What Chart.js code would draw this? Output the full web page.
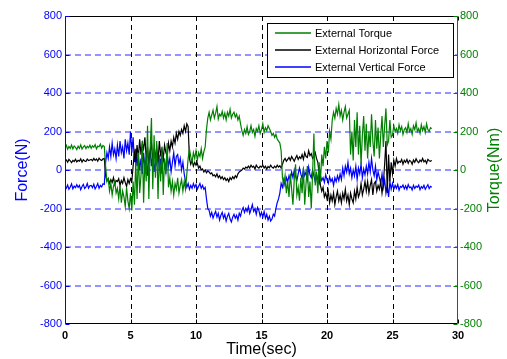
<!DOCTYPE html>
<html>
<head>
<meta charset="utf-8">
<script src="https://cdn.jsdelivr.net/npm/chart.js@4.4.1/dist/chart.umd.min.js"></script>
<style>
  html, body { margin: 0; padding: 0; background: #fff; }
</style>
</head>
<body>
<canvas id="chart" width="507" height="359"></canvas>
<script>
const seriesNames = ['External Torque', 'External Horizontal Force', 'External Vertical Force'];
const seriesColors = ['#008000', '#000000', '#0000ff'];
const xTicks = [0, 5, 10, 15, 20, 25, 30];
const yTicks = [-800, -600, -400, -200, 0, 200, 400, 600, 800];
const sampleStep = 0.1; // seconds between samples, data starts at t = 0

// External torque (Nm), right axis, one row per second
const torque = [
  115,128,108,122,112,130,110,125,118,106,
  124,112,131,109,120,127,111,123,116,129,
  113,126,118,132,110,124,121,135,114,128,
  122,20,-60,-45,-110,-70,-130,-85,-60,-120,
  -95,-150,-80,-170,-110,-140,-190,-90,-160,-200,
  -120,-210,-60,-180,40,-150,90,-120,-30,150,
  -170,60,-60,230,-150,110,270,-100,180,-40,
  150,-150,80,-60,120,-130,60,-20,140,-90,
  -40,-110,-60,-130,-70,-100,-40,-120,-80,-50,
  -110,-60,-100,-20,60,110,70,40,90,60,
  100,50,90,70,110,60,95,120,210,270,
  300,260,285,310,270,295,330,265,290,280,
  305,270,295,260,300,280,315,270,290,300,
  275,290,260,280,240,205,180,210,190,225,
  185,200,230,195,210,175,215,200,230,190,
  210,240,195,220,205,230,215,200,180,190,
  170,185,160,150,140,100,-40,-80,-30,-120,
  -60,-140,-20,-100,-180,-50,30,-130,-90,-160,
  -40,-120,10,-180,-70,20,-140,-60,-200,-20,
  190,-80,-10,-120,40,-60,80,20,120,60,
  150,90,200,160,260,300,270,320,290,340,
  280,310,260,300,330,270,290,310,80,200,
  50,260,120,300,80,230,30,180,280,100,
  240,60,200,120,290,150,70,260,110,220,
  60,180,280,120,230,320,130,150,260,170,
  180,230,200,215,190,235,205,225,185,210,
  220,195,240,200,215,185,230,210,245,200,
  215,190,235,205,225,195,240,210,200,220,
  215
];

// External horizontal force (N), left axis
const horizForce = [
  45,52,40,55,48,38,50,44,56,42,
  50,46,58,41,53,47,44,57,49,52,
  55,48,60,50,57,46,62,53,49,58,
  60,-30,-55,-45,-70,-50,-65,-40,-75,-55,
  -60,-45,-80,-55,-70,-40,-65,-85,-50,-70,
  -45,-60,20,90,40,130,60,160,80,140,
  110,170,60,120,30,90,140,50,100,70,
  120,40,150,80,110,60,130,90,70,140,
  100,150,120,170,140,190,160,200,180,210,
  190,230,200,240,225,60,30,50,20,40,
  25,35,10,20,0,5,-10,0,-15,-5,
  -10,-20,-15,-30,-25,-35,-20,-40,-30,-45,
  -35,-50,-40,-55,-45,-60,-40,-50,-35,-45,
  -30,-40,-20,-10,-5,0,10,5,15,10,
  20,10,25,15,20,5,25,15,10,20,
  15,25,10,20,5,18,12,25,15,10,
  20,12,25,15,22,10,30,50,60,45,
  55,65,50,70,58,45,62,75,55,68,
  60,80,55,90,70,65,100,75,85,60,
  70,90,60,40,-20,-80,-110,-90,-140,-120,
  -150,-110,-170,-130,-160,-120,-180,-140,-110,-160,
  -130,-170,-120,-150,-100,-160,-130,-180,-120,-150,
  -170,-110,-150,-90,-140,-120,-70,-130,-100,-60,
  -110,-60,-120,-80,-50,-130,-70,-60,-110,-80,
  -100,-60,-120,-70,30,150,-120,80,-60,40,
  -20,50,20,60,35,45,40,55,30,50,
  40,55,35,50,45,30,52,40,58,45,
  38,52,44,60,42,50,35,55,48,45,
  50
];

// External vertical force (N), left axis
const vertForce = [
  -85,-95,-78,-100,-88,-72,-98,-84,-92,-76,
  -90,-80,-102,-86,-75,-96,-88,-70,-94,-82,
  -80,-92,-74,-98,-86,-70,-95,-80,-88,-72,
  -75,40,90,60,120,70,140,80,110,60,
  130,70,150,90,120,60,160,100,140,80,
  200,90,170,40,110,20,80,0,60,-20,
  90,10,70,-30,60,100,20,80,-10,50,
  30,90,0,60,-20,70,40,-10,80,20,
  60,-10,40,90,20,70,80,30,60,0,
  40,-20,-60,-90,-70,-100,-80,-95,-70,-90,
  -75,-100,-85,-70,-95,-80,-100,-90,-150,-200,
  -210,-240,-220,-250,-230,-215,-245,-225,-260,-235,
  -220,-250,-230,-265,-240,-225,-255,-270,-245,-230,
  -250,-235,-260,-225,-240,-210,-195,-220,-200,-215,
  -190,-225,-205,-180,-215,-200,-230,-195,-210,-240,
  -220,-245,-215,-250,-230,-260,-240,-265,-255,-230,
  -240,-200,-170,-150,-120,-70,-90,-50,-80,-40,
  -60,-30,-50,-10,-40,0,-30,-55,-20,10,
  -20,-45,5,-30,-10,-50,15,-25,-40,0,
  -30,-60,-20,-50,-70,-30,-55,-40,-65,-25,
  -50,-70,-35,-60,-45,-80,-40,-60,-30,-55,
  -20,-50,10,-30,20,-10,40,-20,10,-40,
  0,-30,20,-50,10,-20,30,-40,5,-25,
  20,-20,40,-10,60,0,-30,20,-50,-10,
  -40,-70,-20,-90,-50,-120,-80,-140,-60,-100,
  -70,-100,-80,-95,-75,-105,-85,-90,-78,-98,
  -82,-100,-76,-92,-88,-104,-80,-96,-84,-90,
  -78,-102,-86,-94,-80,-100,-88,-76,-96,-85,
  -90
];

const FONT = "'Liberation Sans', Arial, sans-serif";

const toPoints = vals => vals.map((v, i) => ({ x: +(i * sampleStep).toFixed(1), y: v }));

// dashed grid drawn by hand so each set keeps its own colour
const matlabGrid = {
  id: 'matlabGrid',
  beforeDatasetsDraw(chart) {
    const { ctx, chartArea: a, scales } = chart;
    ctx.save();
    ctx.lineWidth = 1;
    ctx.setLineDash([6, 4]);
    ctx.strokeStyle = '#2a2aff';
    ctx.beginPath();
    for (const v of yTicks) {
      if (Math.abs(v) === 800) continue;
      const py = Math.round(scales.yL.getPixelForValue(v));
      ctx.moveTo(a.left, py); ctx.lineTo(a.right, py);
    }
    ctx.stroke();
    ctx.setLineDash([5, 4]);
    ctx.strokeStyle = '#000';
    ctx.beginPath();
    for (const t of xTicks) {
      if (t === 0 || t === 30) continue;
      const px = Math.round(scales.x.getPixelForValue(t)) + 0.5;
      ctx.moveTo(px, a.top); ctx.lineTo(px, a.bottom);
    }
    ctx.stroke();
    ctx.restore();
  }
};

// MATLAB style frame: coloured y axes, inward ticks, right title bottom-to-top, boxed legend
const matlabFrame = {
  id: 'matlabFrame',
  afterDraw(chart) {
    const { ctx, chartArea: a, scales } = chart;
    const sx = scales.x, sy = scales.yL;
    const L = Math.round(a.left) + 0.5, R = Math.round(a.right) - 0.5;
    const T = Math.round(a.top) + 0.5, B = Math.round(a.bottom) - 0.5;
    ctx.save();
    ctx.lineWidth = 1;
    ctx.setLineDash([]);

    ctx.strokeStyle = '#000';
    ctx.beginPath();
    for (const t of xTicks) {
      const px = Math.round(sx.getPixelForValue(t)) + 0.5;
      ctx.moveTo(px, B); ctx.lineTo(px, B - 4);
      ctx.moveTo(px, T); ctx.lineTo(px, T + 4);
    }
    ctx.moveTo(L, T); ctx.lineTo(R, T);
    ctx.moveTo(L, B); ctx.lineTo(R, B);
    ctx.stroke();

    ctx.strokeStyle = '#0000ff';
    ctx.beginPath();
    ctx.moveTo(L, T); ctx.lineTo(L, B);
    for (const v of yTicks) {
      const py = Math.round(sy.getPixelForValue(v)) + 0.5;
      ctx.moveTo(L, py); ctx.lineTo(L + 4, py);
    }
    ctx.stroke();

    ctx.strokeStyle = '#008000';
    ctx.beginPath();
    ctx.moveTo(R, T); ctx.lineTo(R, B);
    for (const v of yTicks) {
      const py = Math.round(scales.yR.getPixelForValue(v)) + 0.5;
      ctx.moveTo(R, py); ctx.lineTo(R - 4, py);
    }
    ctx.stroke();

    // right axis title, reading bottom to top like the left one
    ctx.fillStyle = '#008000';
    ctx.font = '16px ' + FONT;
    ctx.textAlign = 'center';
    ctx.textBaseline = 'middle';
    ctx.translate(495, (a.top + a.bottom) / 2);
    ctx.rotate(-Math.PI / 2);
    ctx.fillText('Torque(Nm)', 0, 0);
    ctx.setTransform(1, 0, 0, 1, 0, 0);

    // legend box
    const bx = 267.5, by = 23.5, bw = 186, bh = 54;
    ctx.fillStyle = '#fff';
    ctx.fillRect(bx, by, bw, bh);
    ctx.strokeStyle = '#000';
    ctx.strokeRect(bx, by, bw, bh);
    ctx.font = '11px ' + FONT;
    ctx.textAlign = 'left';
    seriesNames.forEach((name, i) => {
      const ly = 33 + i * 17;
      ctx.strokeStyle = seriesColors[i];
      ctx.lineWidth = 1.5;
      ctx.beginPath();
      ctx.moveTo(275, ly); ctx.lineTo(311, ly);
      ctx.stroke();
      ctx.fillStyle = '#000';
      ctx.fillText(name, 315, ly + 0.5);
    });
    ctx.restore();
  }
};

new Chart(document.getElementById('chart'), {
  type: 'line',
  data: {
    datasets: [
      { label: seriesNames[0], data: toPoints(torque), yAxisID: 'yR', borderColor: seriesColors[0] },
      { label: seriesNames[1], data: toPoints(horizForce), yAxisID: 'yL', borderColor: seriesColors[1] },
      { label: seriesNames[2], data: toPoints(vertForce), yAxisID: 'yL', borderColor: seriesColors[2] }
    ]
  },
  options: {
    responsive: false,
    animation: false,
    events: [],
    layout: { padding: { top: 16, left: 0, right: 0, bottom: 0 } },
    elements: {
      line: { borderWidth: 1.2, tension: 0 },
      point: { radius: 0 }
    },
    plugins: { legend: { display: false }, tooltip: { enabled: false } },
    scales: {
      x: {
        type: 'linear', min: 0, max: 30,
        afterFit(s) { s.height = 35; },
        afterBuildTicks(s) { s.ticks = xTicks.map(v => ({ value: v })); },
        ticks: { color: '#000', padding: 5, font: { family: FONT, size: 11, weight: 'bold' } },
        grid: { display: false, drawTicks: false },
        border: { display: false },
        title: { display: true, text: 'Time(sec)', color: '#000', padding: 0, font: { family: FONT, size: 16 } }
      },
      yL: {
        position: 'left', min: -800, max: 800,
        afterFit(s) { s.width = 65; },
        afterBuildTicks(s) { s.ticks = yTicks.map(v => ({ value: v })); },
        ticks: { color: '#0000ff', padding: 3, font: { family: FONT, size: 11 } },
        grid: { display: false, drawTicks: false },
        border: { display: false },
        title: { display: true, text: 'Force(N)', color: '#0000ff', padding: { top: 13, bottom: 0 }, font: { family: FONT, size: 16 } }
      },
      yR: {
        position: 'right', min: -800, max: 800,
        afterFit(s) { s.width = 49; },
        afterBuildTicks(s) { s.ticks = yTicks.map(v => ({ value: v })); },
        ticks: { color: '#008000', padding: 2, font: { family: FONT, size: 11 } },
        grid: { display: false, drawTicks: false },
        border: { display: false }
      }
    }
  },
  plugins: [matlabGrid, matlabFrame]
});
</script>
</body>
</html>
